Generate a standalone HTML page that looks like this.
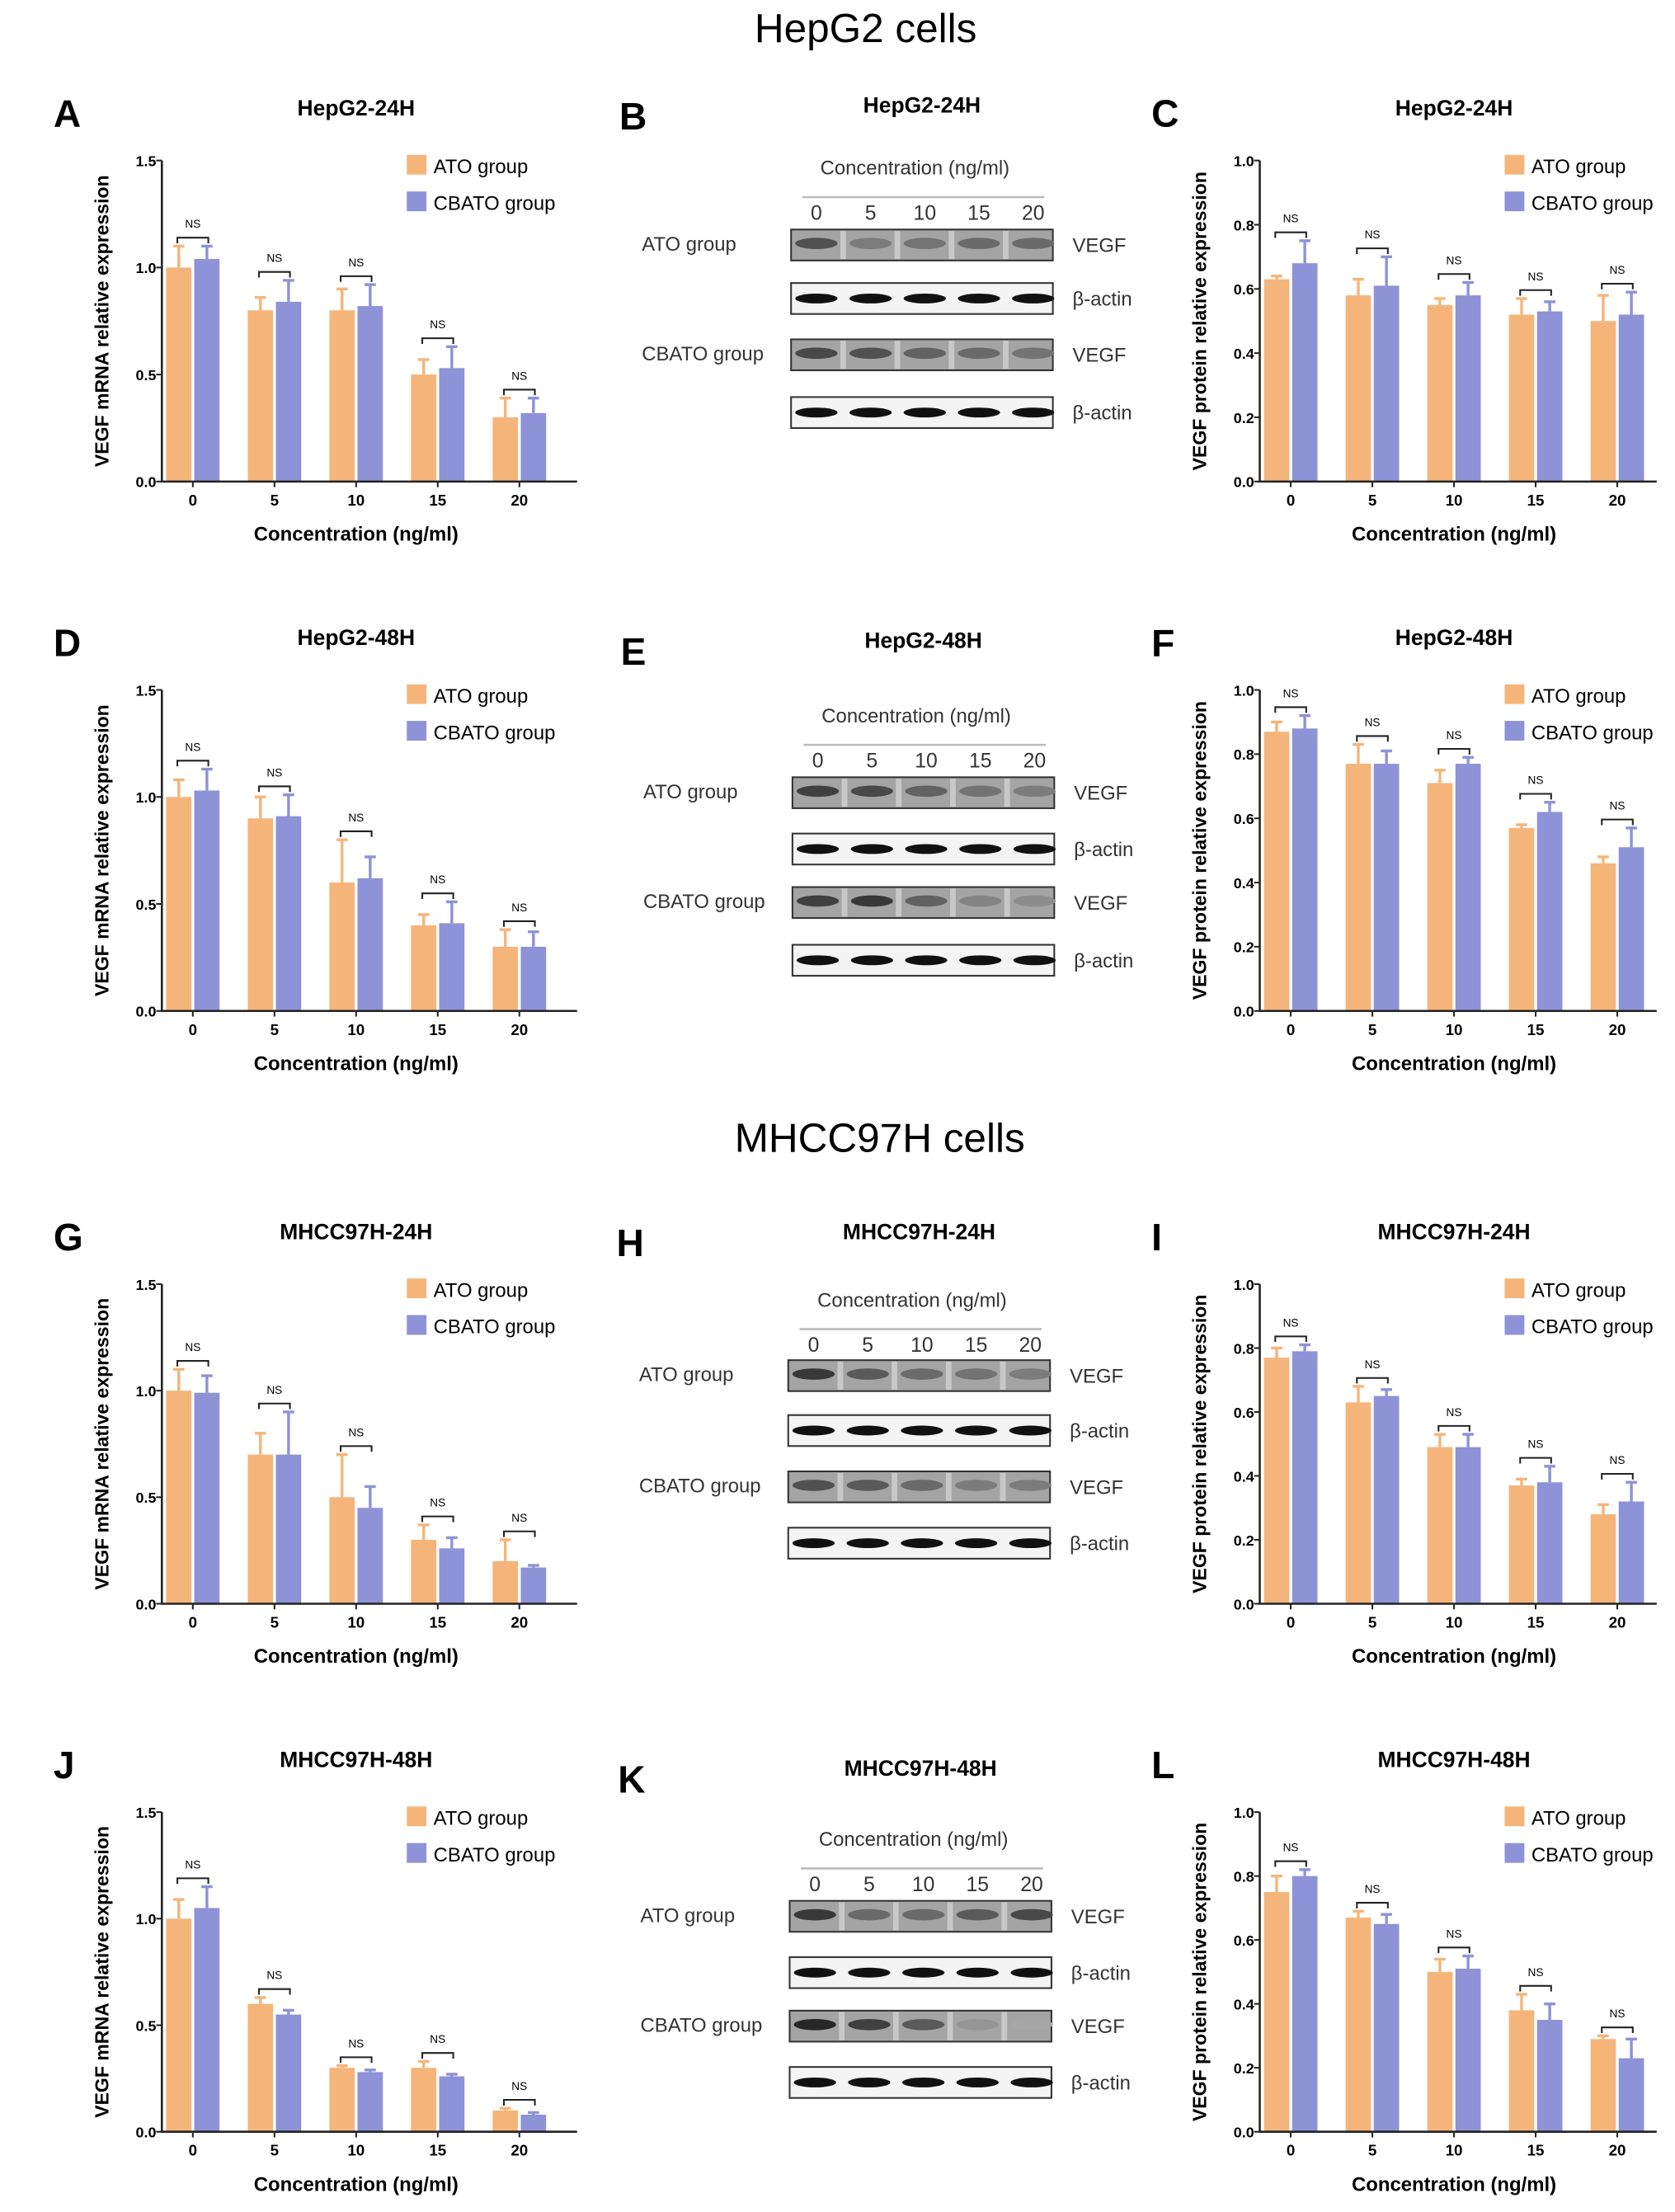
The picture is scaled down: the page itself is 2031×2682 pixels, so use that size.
<!DOCTYPE html>
<html><head><meta charset="utf-8"><style>
html,body{margin:0;padding:0;background:#fff}
svg{display:block}
text{font-family:"Liberation Sans",sans-serif}
</style></head><body>
<svg id="fig" width="2031" height="2682" viewBox="0 0 1190 1571" preserveAspectRatio="none" xmlns="http://www.w3.org/2000/svg">
<text x="615" y="30" font-size="29" text-anchor="middle">HepG2 cells</text>
<text x="625" y="818" font-size="29" text-anchor="middle">MHCC97H cells</text>
<g id="root"></g>
</svg>
<script>
const categories = ["0","5","10","15","20"];
const aAto=[1.0,0.8,0.8,0.5,0.3], aAtoErr=[0.1,0.06,0.1,0.07,0.09];
const aCb=[1.04,0.84,0.82,0.53,0.32], aCbErr=[0.06,0.1,0.1,0.1,0.07];
const cAto=[0.63,0.58,0.55,0.52,0.50], cAtoErr=[0.01,0.05,0.02,0.05,0.08];
const cCb=[0.68,0.61,0.58,0.53,0.52], cCbErr=[0.07,0.09,0.04,0.03,0.07];
const dAto=[1.0,0.9,0.6,0.4,0.3], dAtoErr=[0.08,0.1,0.2,0.05,0.08];
const dCb=[1.03,0.91,0.62,0.41,0.3], dCbErr=[0.1,0.1,0.1,0.1,0.07];
const fAto=[0.87,0.77,0.71,0.57,0.46], fAtoErr=[0.03,0.06,0.04,0.01,0.02];
const fCb=[0.88,0.77,0.77,0.62,0.51], fCbErr=[0.04,0.04,0.02,0.03,0.06];
const gAto=[1.0,0.7,0.5,0.3,0.2], gAtoErr=[0.1,0.1,0.2,0.07,0.1];
const gCb=[0.99,0.7,0.45,0.26,0.17], gCbErr=[0.08,0.2,0.1,0.05,0.01];
const iAto=[0.77,0.63,0.49,0.37,0.28], iAtoErr=[0.03,0.05,0.04,0.02,0.03];
const iCb=[0.79,0.65,0.49,0.38,0.32], iCbErr=[0.02,0.02,0.04,0.05,0.06];
const jAto=[1.0,0.6,0.3,0.3,0.1], jAtoErr=[0.09,0.03,0.01,0.03,0.01];
const jCb=[1.05,0.55,0.28,0.26,0.08], jCbErr=[0.1,0.02,0.01,0.01,0.01];
const lAto=[0.75,0.67,0.50,0.38,0.29], lAtoErr=[0.05,0.02,0.04,0.05,0.01];
const lCb=[0.80,0.65,0.51,0.35,0.23], lCbErr=[0.02,0.03,0.04,0.05,0.06];
const mrnaTicks=[0,0.5,1.0,1.5], mrnaTickLabels=["0.0","0.5","1.0","1.5"];
const protTicks=[0,0.2,0.4,0.6,0.8,1.0], protTickLabels=["0.0","0.2","0.4","0.6","0.8","1.0"];

const NS="http://www.w3.org/2000/svg";
const root=document.getElementById('root');
function el(tag,attrs,parent,txt){const e=document.createElementNS(NS,tag);for(const k in attrs)e.setAttribute(k,attrs[k]);if(txt!==undefined)e.textContent=txt;(parent||root).appendChild(e);return e;}
const ORANGE="#f5b57a", BLUE="#8e92d6";

function chart(o){
  const g=el('g',{});
  
  
  const x0=o.x, top=o.top, bot=o.bot, w=o.w, ymax=o.ymax;
  const y=v=>bot-(v/ymax)*(bot-top);
  const step=58;
  const cx=i=>x0+22+i*step;
  const L=el('text',{x:o.x-77,y:top-24,'font-size':27,'font-weight':'bold'},g,o.letter);
   
  const T=el('text',{x:x0+138,y:top-32,'font-size':15.5,'font-weight':'bold','text-anchor':'middle'},g,o.title);
   
  for(let i=0;i<5;i++){
    const vals=[[o.ato,o.atoE,ORANGE,-19],[o.cb,o.cbE,BLUE,1]];
    vals.forEach(([arr,err,col,off],k)=>{
      const bx=cx(i)+off, by=y(arr[i]);
      const r=el('rect',{x:bx,y:by,width:18,height:bot-by,fill:col},g);
      
      
      const ey=y(arr[i]+err[i]);
      const e=el('line',{x1:bx+9,x2:bx+9,y1:by,y2:ey,stroke:col,'stroke-width':2},g);
       
      el('line',{x1:bx+5,x2:bx+13,y1:ey,y2:ey,stroke:col,'stroke-width':2},g);
    });
    const m=Math.min(y(o.ato[i]+o.atoE[i]),y(o.cb[i]+o.cbE[i]))-6;
    const b=el('path',{d:`M${cx(i)-11},${m+4}V${m}H${cx(i)+11}V${m+4}`,fill:'none',stroke:'#222','stroke-width':1.2},g);
     
    const n=el('text',{x:cx(i),y:m-7,'font-size':8,'text-anchor':'middle'},g,'NS');
     
    const t=el('text',{x:cx(i),y:bot+17,'font-size':11,'font-weight':'bold','text-anchor':'middle'},g,categories[i]);
     
    el('line',{x1:cx(i),x2:cx(i),y1:bot,y2:bot+4,stroke:'#222','stroke-width':1.2},g);
  }
  const ax=el('path',{d:`M${x0},${top}V${bot}H${x0+w}`,fill:'none',stroke:'#222','stroke-width':1.5},g);
   
  o.ticks.forEach((v,i)=>{
    el('line',{x1:x0-4,x2:x0,y1:y(v),y2:y(v),stroke:'#222','stroke-width':1.2},g);
    const t=el('text',{x:x0-4,y:y(v)+4,'font-size':10.5,'font-weight':'bold','text-anchor':'end'},g,o.tickLabels[i]);
     
  });
  const yl=el('text',{x:0,y:0,'font-size':13.5,'font-weight':'bold','text-anchor':'middle',transform:`translate(${x0-38},${(top+bot)/2}) rotate(-90)`},g,o.ylab);
   
  const xl=el('text',{x:x0+138,y:bot+42,'font-size':14,'font-weight':'bold','text-anchor':'middle'},g,'Concentration (ng/ml)');
   
  [['ATO group',ORANGE,0],['CBATO group',BLUE,26]].forEach(([lab,col,dy])=>{
    const lg=el('g',{},g);
     
    el('rect',{x:x0+174,y:top-4+dy,width:14,height:14,fill:col},lg);
    el('text',{x:x0+193,y:top+9+dy,'font-size':14},lg,lab);
  });
}
const rows=[[114,342],[490,718],[912,1139],[1287,1514]];
const mr="VEGF mRNA relative expression", pr="VEGF protein relative expression";
chart({id:'a',letter:'A',title:'HepG2-24H',x:115,w:295,top:rows[0][0],bot:rows[0][1],ymax:1.5,ticks:mrnaTicks,tickLabels:mrnaTickLabels,ylab:mr,ato:aAto,atoE:aAtoErr,cb:aCb,cbE:aCbErr});
chart({id:'c',letter:'C',title:'HepG2-24H',x:895,w:282,top:rows[0][0],bot:rows[0][1],ymax:1.0,ticks:protTicks,tickLabels:protTickLabels,ylab:pr,ato:cAto,atoE:cAtoErr,cb:cCb,cbE:cCbErr});
chart({id:'d',letter:'D',title:'HepG2-48H',x:115,w:295,top:rows[1][0],bot:rows[1][1],ymax:1.5,ticks:mrnaTicks,tickLabels:mrnaTickLabels,ylab:mr,ato:dAto,atoE:dAtoErr,cb:dCb,cbE:dCbErr});
chart({id:'f',letter:'F',title:'HepG2-48H',x:895,w:282,top:rows[1][0],bot:rows[1][1],ymax:1.0,ticks:protTicks,tickLabels:protTickLabels,ylab:pr,ato:fAto,atoE:fAtoErr,cb:fCb,cbE:fCbErr});
chart({id:'g',letter:'G',title:'MHCC97H-24H',x:115,w:295,top:rows[2][0],bot:rows[2][1],ymax:1.5,ticks:mrnaTicks,tickLabels:mrnaTickLabels,ylab:mr,ato:gAto,atoE:gAtoErr,cb:gCb,cbE:gCbErr});
chart({id:'i',letter:'I',title:'MHCC97H-24H',x:895,w:282,top:rows[2][0],bot:rows[2][1],ymax:1.0,ticks:protTicks,tickLabels:protTickLabels,ylab:pr,ato:iAto,atoE:iAtoErr,cb:iCb,cbE:iCbErr});
chart({id:'j',letter:'J',title:'MHCC97H-48H',x:115,w:295,top:rows[3][0],bot:rows[3][1],ymax:1.5,ticks:mrnaTicks,tickLabels:mrnaTickLabels,ylab:mr,ato:jAto,atoE:jAtoErr,cb:jCb,cbE:jCbErr});
chart({id:'l',letter:'L',title:'MHCC97H-48H',x:895,w:282,top:rows[3][0],bot:rows[3][1],ymax:1.0,ticks:protTicks,tickLabels:protTickLabels,ylab:pr,ato:lAto,atoE:lAtoErr,cb:lCb,cbE:lCbErr});

// western blots: band darkness 0..1 for VEGF rows
const bVegfAto=[0.7,0.45,0.5,0.55,0.55], bVegfCb=[0.75,0.7,0.6,0.55,0.5];
const eVegfAto=[0.8,0.75,0.6,0.5,0.45], eVegfCb=[0.8,0.85,0.6,0.4,0.35];
const hVegfAto=[0.85,0.65,0.55,0.5,0.45], hVegfCb=[0.7,0.65,0.55,0.45,0.45];
const kVegfAto=[0.85,0.55,0.55,0.65,0.75], kVegfCb=[0.95,0.8,0.65,0.3,0.2];
const laneLabels=["0","5","10","15","20"];
function blot(o){
  const g=el('g',{});
  
  
  const L=el('text',{x:o.x-122,y:o.titleY+12,'font-size':27,'font-weight':'bold'},g,o.letter);
   
  const T=el('text',{x:o.x+93,y:o.titleY,'font-size':15.5,'font-weight':'bold','text-anchor':'middle'},g,o.title);
   
  el('text',{x:o.x+88,y:o.hy,'font-size':14,fill:'#333','text-anchor':'middle'},g,'Concentration (ng/ml)');
  el('line',{x1:o.x+8,x2:o.x+180,y1:o.hy+16,y2:o.hy+16,stroke:'#bbb','stroke-width':1.5},g);
  const lx=i=>o.x+18+i*38.5;
  laneLabels.forEach((s,i)=>el('text',{x:lx(i),y:o.hy+32,'font-size':14.5,fill:'#333','text-anchor':'middle'},g,s));
  const rowsB=[[o.r[0],o.va,'VEGF'],[o.r[1],null,'β-actin'],[o.r[2],o.vc,'VEGF'],[o.r[3],null,'β-actin']];
  rowsB.forEach(([ry,arr,lab],k)=>{
    const h=22;
    const box=el('rect',{x:o.x,y:ry,width:186,height:h,fill:arr?'#a4a4a4':'#f4f4f4',stroke:'#333','stroke-width':1.2},g);
    
    
    for(let i=0;i<5;i++){
      if(arr){
        if(i<4) el('rect',{x:lx(i)+17,y:ry+1,width:4,height:h-2,fill:'#c8c8c8'},g);
        const d=Math.round(200-arr[i]*170);
        el('ellipse',{cx:lx(i),cy:ry+h*0.45,rx:15,ry:4,fill:`rgb(${d},${d},${d})`},g);
      }else{
        el('ellipse',{cx:lx(i),cy:ry+h*0.5,rx:15,ry:3.5,fill:'#111'},g);
      }
    }
    el('text',{x:o.x+200,y:ry+h/2+5,'font-size':14,fill:'#333'},g,lab);
  });
  el('text',{x:o.x-106,y:o.r[0]+15,'font-size':14,fill:'#333'},g,'ATO group');
  el('text',{x:o.x-106,y:o.r[2]+15,'font-size':14,fill:'#333'},g,'CBATO group');
}
blot({id:'b',letter:'B',title:'HepG2-24H',x:562,titleY:80,hy:124,r:[163,201,241,282],va:bVegfAto,vc:bVegfCb});
blot({id:'e',letter:'E',title:'HepG2-48H',x:563,titleY:460,hy:513,r:[552,592,630,671],va:eVegfAto,vc:eVegfCb});
blot({id:'h',letter:'H',title:'MHCC97H-24H',x:560,titleY:880,hy:928,r:[966,1005,1045,1085],va:hVegfAto,vc:hVegfCb});
blot({id:'k',letter:'K',title:'MHCC97H-48H',x:561,titleY:1261,hy:1311,r:[1350,1390,1428,1468],va:kVegfAto,vc:kVegfCb});
</script>
</body></html>
